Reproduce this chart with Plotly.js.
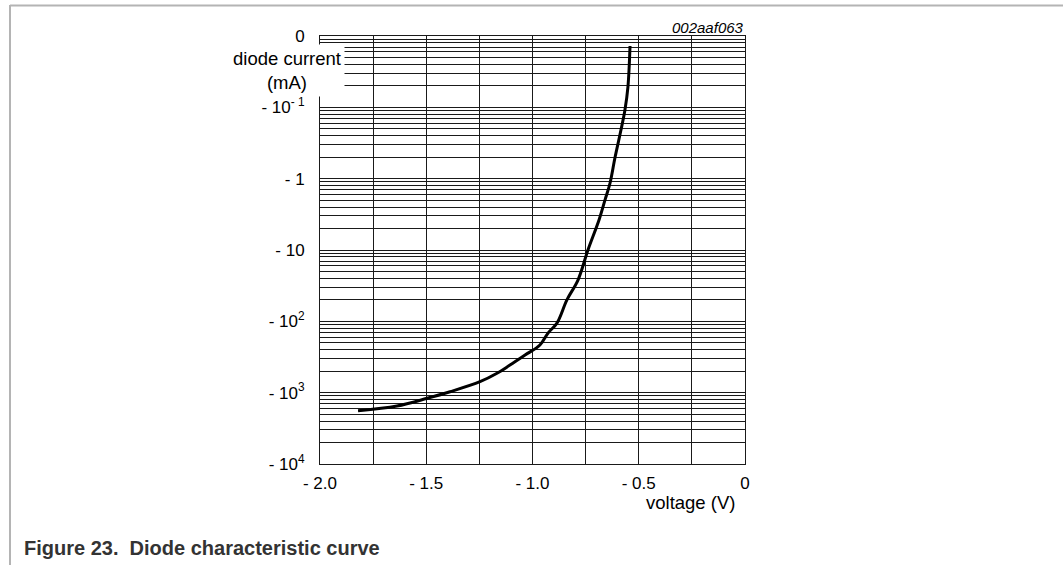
<!DOCTYPE html>
<html>
<head>
<meta charset="utf-8">
<script src="https://cdn.plot.ly/plotly-3.0.1.min.js"></script>
<style>
html,body{margin:0;padding:0;background:#fff;}
#chart{width:1063px;height:565px;}
</style>
</head>
<body>
<div id="chart"></div>
<script>
// Diode characteristic: voltage (V) vs diode current magnitude (mA, plotted as negative)
const voltage = [-1.821, -1.638, -1.496, -1.388, -1.247, -1.167, -1.106, -1.035, -0.965, -0.927, -0.885, -0.838, -0.786, -0.739, -0.687, -0.659, -0.635, -0.612, -0.584, -0.565, -0.551, -0.541];
const currentMag = [1791, 1539, 1200, 970, 702, 535, 410, 297, 215, 146, 106, 50, 26.4, 10, 3.8, 2.0, 1.15, 0.51, 0.21, 0.109, 0.052, 0.0138];

const yTickVals = [0.01, 0.1, 1, 10, 100, 1000, 10000];
const yTickText = ['0', '- 10<sup>- 1</sup>', '- 1', '- 10', '- 10<sup>2</sup>', '- 10<sup>3</sup>', '- 10<sup>4</sup>'];
const xTickVals = [-2, -1.5, -1, -0.5, 0];
const xTickText = ['- 2.0', '- 1.5', '- 1.0', '- 0.5', '0'];
const minorMultipliers = [2, 3, 4, 5, 6, 7, 8, 9];

// minor grid lines of the chart paper (mirrored log subdivisions within each decade)
const yMinorVals = [];
for (let i = 0; i < yTickVals.length - 1; i++) {
  const upper = yTickVals[i + 1];
  minorMultipliers.forEach(m => yMinorVals.push(upper / m));
}

const FONT = 'Liberation Sans, Arial, Helvetica, sans-serif';
const GRID = '#1a1a1a';

const trace = {
  x: voltage,
  y: currentMag,
  type: 'scatter',
  mode: 'lines',
  line: {color: '#000', width: 3, shape: 'spline', smoothing: 1},
  hoverinfo: 'skip'
};

const layout = {
  width: 1063,
  height: 565,
  margin: {l: 320, r: 318, t: 36, b: 101, pad: 0},
  paper_bgcolor: '#fff',
  plot_bgcolor: '#fff',
  showlegend: false,
  font: {family: FONT, size: 17, color: '#000'},
  xaxis: {
    range: [-2, 0],
    autorange: false,
    tickmode: 'array',
    tickvals: xTickVals,
    ticktext: xTickText,
    ticks: '',
    ticklabelstandoff: 4,
    showgrid: true,
    gridcolor: GRID,
    gridwidth: 1,
    minor: {tickmode: 'linear', tick0: -2, dtick: 0.25, showgrid: true, gridcolor: GRID, gridwidth: 1, ticks: ''},
    zeroline: false,
    showline: true,
    mirror: true,
    linecolor: GRID,
    linewidth: 1,
    tickfont: {family: FONT, size: 17, color: '#000'}
  },
  yaxis: {
    type: 'log',
    range: [4, -2],
    autorange: false,
    tickmode: 'array',
    tickvals: yTickVals,
    ticktext: yTickText,
    ticks: '',
    ticklabelstandoff: 11,
    showgrid: true,
    gridcolor: GRID,
    gridwidth: 1,
    minor: {tickmode: 'array', tickvals: yMinorVals, showgrid: true, gridcolor: GRID, gridwidth: 1, ticks: ''},
    zeroline: false,
    showline: true,
    mirror: true,
    linecolor: GRID,
    linewidth: 1,
    tickfont: {family: FONT, size: 17, color: '#000'}
  },
  annotations: [
    {
      text: 'diode current<br>(mA)',
      xref: 'paper', yref: 'paper',
      x: 0.0588, y: 0.9194,
      xanchor: 'right', yanchor: 'middle',
      align: 'center',
      showarrow: false,
      bgcolor: '#fff',
      borderpad: 3,
      font: {family: FONT, size: 18.5, color: '#000'}
    },
    {
      text: 'voltage (V)',
      xref: 'paper', yref: 'paper',
      x: 0.981, y: -0.0911,
      xanchor: 'right', yanchor: 'middle',
      showarrow: false,
      font: {family: FONT, size: 18.5, color: '#000'}
    },
    {
      text: '<i>002aaf063</i>',
      xref: 'paper', yref: 'paper',
      x: 1.002, y: 1.0210,
      xanchor: 'right', yanchor: 'middle',
      showarrow: false,
      font: {family: FONT, size: 15, color: '#000'}
    },
    {
      text: '<b>Figure 23.&nbsp;&nbsp;Diode characteristic curve</b>',
      xref: 'paper', yref: 'paper',
      x: -0.7012, y: -0.1963,
      xanchor: 'left', yanchor: 'middle',
      showarrow: false,
      font: {family: FONT, size: 20, color: '#333'}
    }
  ],
  shapes: [
    {type: 'line', xref: 'paper', yref: 'paper', x0: -0.7294, x1: 1.75, y0: 1.0713, y1: 1.0713, line: {color: '#b4b4b4', width: 2}},
    {type: 'line', xref: 'paper', yref: 'paper', x0: -0.7294, x1: -0.7294, y0: 1.0725, y1: -0.24, line: {color: '#b4b4b4', width: 2}}
  ]
};

Plotly.newPlot('chart', [trace], layout, {displayModeBar: false, staticPlot: true});
</script>
</body>
</html>
